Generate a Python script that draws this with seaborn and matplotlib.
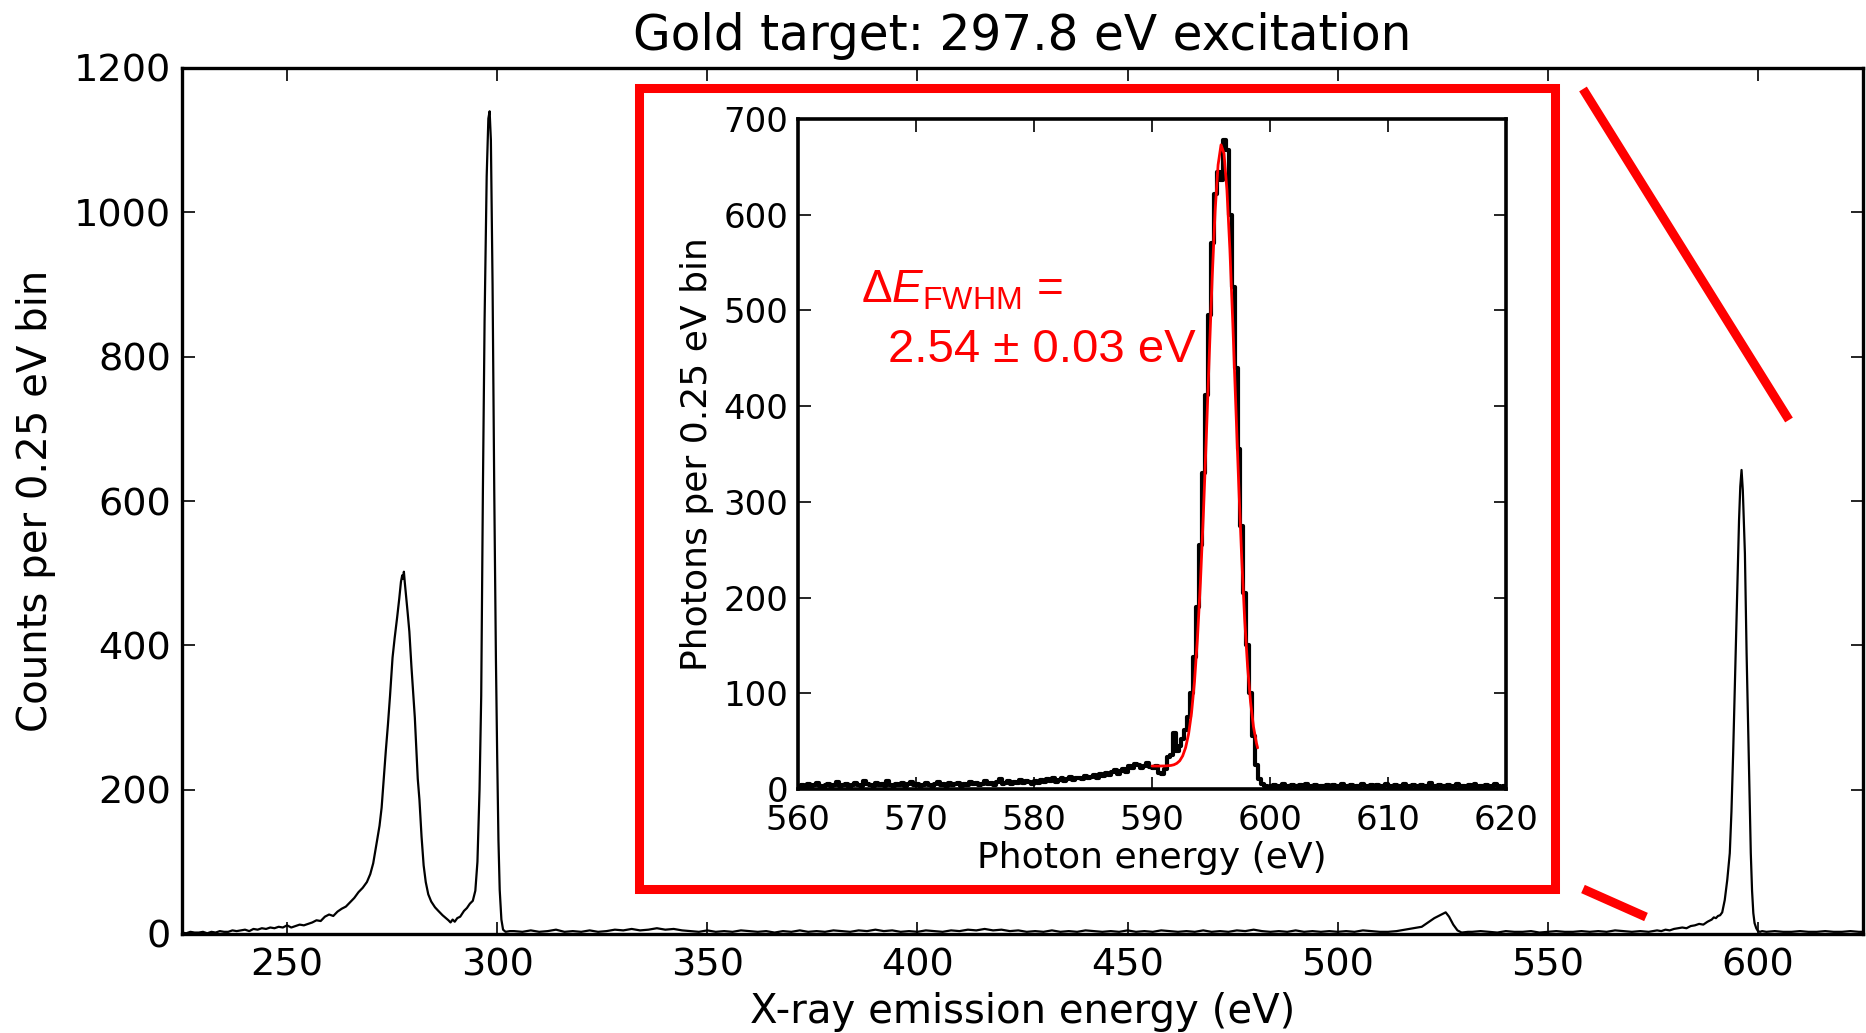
import numpy as np
import pandas as pd
import matplotlib
matplotlib.use("Agg")
import matplotlib.pyplot as plt
import seaborn as sns
from matplotlib.patches import Rectangle
from matplotlib.lines import Line2D

# ---------------------------------------------------------------------------
# Survey spectrum, gold target, 297.8 eV excitation (counts per 0.25 eV bin)
# ---------------------------------------------------------------------------
low_energy = [225, 226, 227, 228, 229, 230, 231, 232, 233, 234, 235, 236, 237,
              238, 239, 240, 241, 242, 243, 244, 245, 246, 247, 248, 249, 250,
              251, 252, 253, 254, 255, 256, 257, 258, 259, 260, 261, 262, 263,
              264, 265, 266, 267]
low_counts = [2, 1, 3, 2, 2, 3, 1, 3, 2, 4, 3, 3, 5,
              4, 5, 6, 4, 7, 6, 8, 7, 9, 8, 10, 9, 12,
              9, 11, 13, 12, 14, 16, 19, 18, 24, 27, 25, 31, 35,
              38, 44, 50, 58]

# carbon K emission and the elastic line
carbon_elastic_energy = [268, 269, 269.8, 270.5, 271, 271.4, 272, 272.5, 273,
                         273.5, 274, 274.5, 275.1, 275.6, 276.2, 276.7, 277.1,
                         277.4, 277.6, 277.8, 278.0, 278.3, 278.7, 279.1, 279.6,
                         280, 280.4, 280.8, 281.1, 281.5, 282, 282.5, 283, 283.6,
                         284.3, 285.2, 286, 287, 287.8, 288.4, 288.9, 289.4,
                         289.9, 290.5, 291.2, 292.1, 292.8, 293.5, 294.2, 294.8,
                         295.3, 295.8, 296.2, 296.6, 297.0, 297.5, 297.9, 298.2,
                         298.5, 298.9, 299.3, 299.7, 300.0, 300.3, 300.6, 301.0,
                         301.4, 302, 303]
carbon_elastic_counts = [64, 72, 83, 98, 115, 129, 150, 175, 215,
                         254, 290, 330, 383, 410, 439, 465, 488,
                         497, 492, 502, 488, 470, 445, 419, 370,
                         335, 300, 250, 215, 186, 135, 95, 72, 55,
                         45, 37, 32, 26, 22, 19, 16, 20,
                         17, 22, 24, 32, 36, 42, 46, 60,
                         100, 200, 330, 615, 850, 1050, 1130, 1140,
                         1100, 900, 615, 380, 246, 130, 61, 20,
                         6, 3, 4]

flat_energy = list(range(304, 511, 2))
flat_counts = [4, 3, 5, 3, 4, 6, 3, 4, 3, 5, 3, 4, 6, 5, 7, 5, 6, 8, 6, 7,
               5, 4, 3, 5, 3, 4, 3, 5, 4, 3, 4, 2, 4, 3, 5, 3, 4, 3, 5, 4,
               3, 5, 4, 6, 4, 5, 3, 4, 3, 5, 4, 3, 5, 4, 6, 5, 7, 5, 6, 4,
               5, 3, 4, 3, 5, 3, 4, 3, 5, 4, 3, 4, 3, 5, 3, 4, 3, 5, 4, 3,
               4, 3, 5, 3, 4, 3, 5, 4, 6, 4, 3, 4, 3, 5, 3, 4, 3, 4, 3, 4,
               3, 5, 4, 3]

# oxygen K emission
oxygen_energy = [512, 514, 516, 518, 520, 521, 522, 523, 524, 525, 525.7,
                 526.5, 527.5, 528.5, 529.5, 531]
oxygen_counts = [3, 4, 6, 8, 10, 14, 18, 22, 25, 28, 30,
                 24, 13, 5, 2, 3]

flat2_energy = list(range(532, 569, 2))
flat2_counts = [3, 4, 3, 2, 4, 3, 3, 4, 2, 3, 4, 3, 3, 4, 3, 4, 3, 5, 4]

# elastic line in second diffraction order
second_order_energy = [570, 572, 574, 576, 577, 578, 579, 580, 581, 582, 583,
                       584, 585, 586, 587, 588, 589, 589.5, 590, 590.5, 591,
                       591.5, 592.1, 592.7, 593.3, 593.7, 594.1, 594.5, 594.9,
                       595.5, 595.8, 596.1, 596.4, 596.9, 597.3, 597.8, 598.3,
                       598.6, 598.9, 599.2, 599.6, 600, 600.5, 601, 602, 604,
                       606, 608, 610, 612, 614, 616, 618, 620, 622, 624, 625]
second_order_counts = [3, 4, 3, 5, 4, 6, 5, 7, 8, 9, 8,
                       11, 12, 14, 13, 17, 20, 23, 22, 25, 26,
                       30, 47, 75, 112, 170, 250, 340, 435,
                       573, 620, 643, 615, 527, 389, 250, 112,
                       60, 29, 15, 8, 4, 3, 4, 3, 4,
                       3, 3, 4, 3, 3, 4, 3, 3, 4, 3, 3]

# ---------------------------------------------------------------------------
# High-resolution inset: 0.25 eV bins from 560 to 620 eV
# ---------------------------------------------------------------------------
inset_bin_width = 0.25
inset_range = (560, 620)
inset_bg_low = [3, 4, 2, 5, 3, 4, 6, 3, 2, 4, 5, 3, 4, 7, 3, 4, 5, 2, 4, 6,
                4, 3, 8, 5, 4, 3, 6, 4, 5, 3, 8, 4, 3, 5, 4, 6, 3, 5, 7, 4,
                5, 3, 4, 6, 4, 3, 5, 7, 4, 5, 3, 6, 4, 5, 6, 3, 5, 4, 7, 5,
                6, 4, 5, 8, 5, 6, 4, 7, 10, 5, 6, 8, 5, 7, 6, 9, 6, 8, 7, 5,
                8, 6, 9, 7, 10, 8, 11, 7, 9, 12, 8, 10, 13, 9, 11, 12, 10, 14, 11, 13,
                15, 12, 16, 14, 17, 15, 18, 20, 16, 19, 21, 18, 24, 22, 26, 25, 22, 24, 27, 23]
inset_peak = [22, 24, 17, 16, 21, 33, 36, 58, 40, 45,
              52, 62, 75, 100, 138, 190, 255, 330, 412, 495,
              570, 622, 645, 636, 678, 668, 600, 525, 440, 355,
              275, 205, 150, 100, 55, 25, 10, 5, 3, 2]
inset_bg_high = [3, 4, 2, 3, 5, 2, 3, 4, 3, 2, 4, 3, 5, 2, 3, 4, 2, 3, 3, 4,
                 2, 4, 3, 3, 5, 2, 3, 4, 2, 3, 3, 5, 3, 2, 4, 3, 4, 2, 3, 5,
                 3, 2, 4, 3, 3, 5, 2, 3, 4, 3, 2, 4, 3, 3, 6, 2, 3, 4, 3, 3,
                 4, 2, 3, 5, 3, 3, 2, 4, 3, 5, 2, 3, 3, 4, 2, 3, 5, 3, 2, 3]

# Gaussian fit to the line
fit_energy = [590.0, 590.6, 591.1, 591.6, 591.85, 592.1, 592.35, 592.6, 592.85,
              593.1, 593.35, 593.6, 593.85, 594.1, 594.35, 594.6, 594.85, 595.1,
              595.35, 595.6, 595.85, 596.1, 596.35, 596.6, 596.85, 597.1, 597.35,
              597.6, 597.85, 598.1, 598.35, 598.6, 598.85, 598.95]
fit_counts = [24, 24, 24.1, 24.6, 25.3, 26.8, 29.5, 34.6, 43.3,
              57.5, 79.6, 112, 157, 215, 286, 367, 452, 534,
              604, 652, 673, 664, 626, 564, 486, 401, 318,
              242, 178, 128, 91, 65, 48, 43]

fwhm_text = "2.54 \u00b1 0.03 eV"

# ---------------------------------------------------------------------------
main = pd.DataFrame({
    "energy": low_energy + carbon_elastic_energy + flat_energy + oxygen_energy
              + flat2_energy + second_order_energy,
    "counts": low_counts + carbon_elastic_counts + flat_counts + oxygen_counts
              + flat2_counts + second_order_counts,
})
n_bins = len(inset_bg_low) + len(inset_peak) + len(inset_bg_high)
inset = pd.DataFrame({
    "energy": inset_range[0] + inset_bin_width * (np.arange(n_bins) + 0.5),
    "photons": inset_bg_low + inset_peak + inset_bg_high,
})
fit = pd.DataFrame({"energy": fit_energy, "photons": fit_counts})

sns.set_style("ticks")
plt.rcParams["font.family"] = ["DejaVu Sans"]
plt.rcParams["text.color"] = "black"
plt.rcParams["axes.labelcolor"] = "black"
plt.rcParams["axes.titlecolor"] = "black"
plt.rcParams["xtick.color"] = "black"
plt.rcParams["ytick.color"] = "black"
plt.rcParams["mathtext.fontset"] = "custom"
plt.rcParams["mathtext.rm"] = "Liberation Sans"
plt.rcParams["mathtext.it"] = "Liberation Sans:italic"

W, H = 1866, 1033
fig = plt.figure(figsize=(W / 100, H / 100), dpi=100)
fig.patch.set_facecolor("white")


def box(left, top, right, bottom):
    """Pixel edges -> figure-fraction rectangle."""
    return [left / W, 1 - bottom / H, (right - left) / W, (bottom - top) / H]


def style_axes(a, size, spine_w, tick_len, pad_x, pad_y):
    for s in a.spines.values():
        s.set_linewidth(spine_w)
        s.set_color("black")
        s.set_visible(True)
    a.tick_params(direction="in", top=True, right=True, length=tick_len,
                  width=1.2, labelsize=size, colors="black")
    a.tick_params(axis="x", pad=pad_x)
    a.tick_params(axis="y", pad=pad_y)


# main survey spectrum
ax = fig.add_axes(box(182, 68, 1863, 934))
sns.lineplot(data=main, x="energy", y="counts", ax=ax, color="black",
             linewidth=1.6)
ax.set_xlim(225, 625)
ax.set_ylim(0, 1200)
ax.set_xticks([250, 300, 350, 400, 450, 500, 550, 600])
ax.set_yticks([0, 200, 400, 600, 800, 1000, 1200])
style_axes(ax, 27.5, 2.4, 9, 10, 8)
ax.set_xlabel("X-ray emission energy (eV)", fontsize=29, labelpad=6)
ax.set_ylabel("Counts per 0.25 eV bin", fontsize=29, labelpad=13)
ax.set_title("Gold target: 297.8 eV excitation", fontsize=35, pad=13,
             color="black")

# inset
axi = fig.add_axes(box(798, 119, 1506, 789))
axi.set_facecolor("white")
sns.histplot(data=inset, x="energy", weights="photons",
             binwidth=inset_bin_width, binrange=inset_range,
             element="step", fill=False, color="black", linewidth=3, ax=axi)
sns.lineplot(data=fit, x="energy", y="photons", color="red", linewidth=2,
             ax=axi)
axi.set_xlim(*inset_range)
axi.set_ylim(0, 700)
axi.set_xticks(range(560, 621, 10))
axi.set_yticks(range(0, 701, 100))
style_axes(axi, 24.5, 2.6, 9, 11, 7)
axi.set_xlabel("Photon energy (eV)", fontsize=26, labelpad=3)
axi.set_ylabel("Photons per 0.25 eV bin", fontsize=26, labelpad=7)

# red zoom frame and guide lines
red_lw = 6.5
fig.add_artist(Rectangle((638.5 / W, 1 - 888.5 / H), (1554.5 - 638.5) / W,
                         (888.5 - 87.5) / H, transform=fig.transFigure,
                         fill=False, edgecolor="red", linewidth=red_lw,
                         joinstyle="miter"))
for (x0, y0), (x1, y1) in [((1583, 89), (1789, 420)), ((1583, 889), (1646, 917))]:
    fig.add_artist(Line2D([x0 / W, x1 / W], [1 - y0 / H, 1 - y1 / H],
                          transform=fig.transFigure, color="red",
                          linewidth=red_lw, solid_capstyle="butt"))

fig.text(861 / W, 1 - 303 / H, r"$\Delta E_{\mathrm{FWHM}}$ =", color="red",
         fontsize=33, family="Liberation Sans", ha="left", va="baseline")
fig.text(888 / W, 1 - 362 / H, fwhm_text, color="red", fontsize=34,
         family="Liberation Sans", ha="left", va="baseline")

fig.savefig("out.png", dpi=100, facecolor="white")
